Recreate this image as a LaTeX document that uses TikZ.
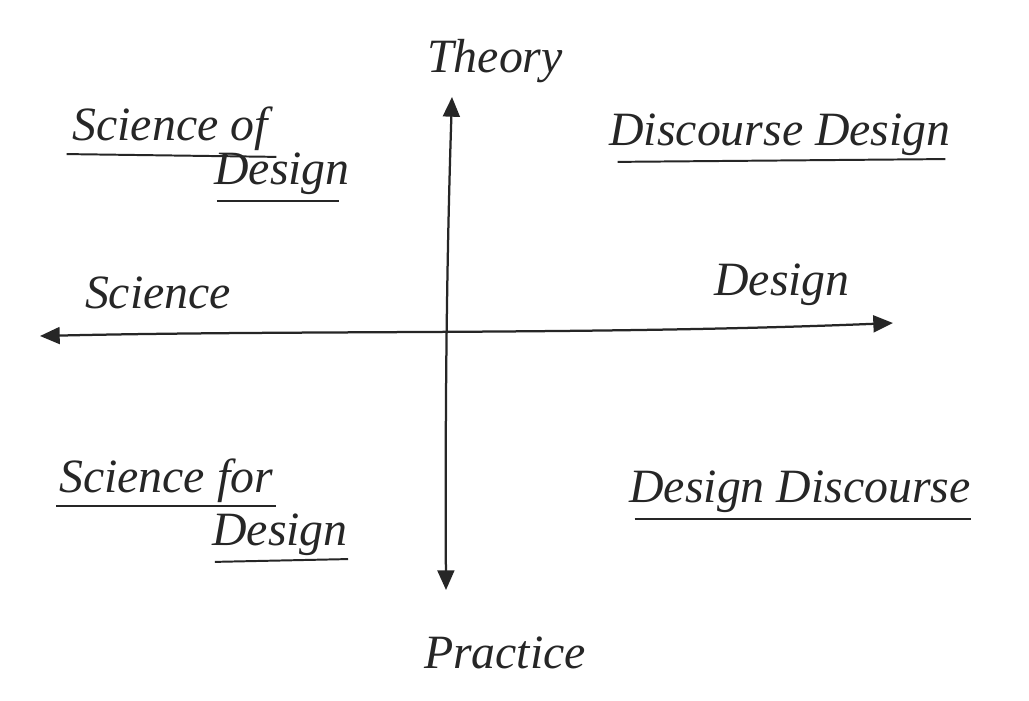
\documentclass[tikz,border=0pt]{standalone}
\usepackage{fontspec}
\setmainfont{Liberation Serif}
\usetikzlibrary{arrows.meta}
\begin{document}
\begin{tikzpicture}[x=0.025cm,y=-0.025cm,
  ink/.style={line width=1.6pt,draw=black!85},
  axis/.style={ink,{Triangle[length=14pt,width=12pt]}-{Triangle[length=14pt,width=12pt]}},
  lbl/.style={font=\itshape\fontsize{34}{38}\selectfont,text=black!85,inner sep=0pt,anchor=base},
  uline/.style={ink,line width=1.4pt}]
\useasboundingbox (0,0) rectangle (1029,700);
\fill[white] (0,0) rectangle (1029,700);

% axis end points
\coordinate (top) at (452,97);
\coordinate (bot) at (446,590);
\coordinate (lft) at (40,336);
\coordinate (rgt) at (893,323);

% axes
\draw[axis] (bot) .. controls (445,400) and (447,250) .. (top);
\draw[axis] (lft) .. controls (300,330) and (600,335) .. (rgt);

% axis labels
\node[lbl] (theory) at (495,72) {Theory};
\node[lbl] (practice) at (505,668) {Practice};
\node[lbl] (science) at (158,308) {Science};
\node[lbl] (design) at (782,295) {Design};

% quadrant labels
\node[lbl] (sod1) at (170,140) {Science of};
\node[lbl] (sod2) at (282,184) {Design};
\node[lbl] (dd) at (780,145) {Discourse Design};
\node[lbl] (sfd1) at (166,492) {Science for};
\node[lbl] (sfd2) at (280,545) {Design};
\node[lbl] (ddisc) at (800,502) {Design Discourse};

% underlines
\draw[uline] ([xshift=-4pt,yshift=-10pt]sod1.base west) -- ([xshift=6pt,yshift=-12pt]sod1.base east);
\draw[uline] ([xshift=2pt,yshift=-12pt]sod2.base west) -- ([xshift=-8pt,yshift=-12pt]sod2.base east);
\draw[uline] ([xshift=6pt,yshift=-12pt]dd.base west) -- ([xshift=-4pt,yshift=-10pt]dd.base east);
\draw[uline] ([xshift=-2pt,yshift=-10pt]sfd1.base west) -- ([xshift=2pt,yshift=-10pt]sfd1.base east);
\draw[uline] ([xshift=2pt,yshift=-12pt]sfd2.base west) -- ([xshift=0pt,yshift=-10pt]sfd2.base east);
\draw[uline] ([xshift=4pt,yshift=-12pt]ddisc.base west) -- ([xshift=0pt,yshift=-12pt]ddisc.base east);
\end{tikzpicture}
\end{document}
